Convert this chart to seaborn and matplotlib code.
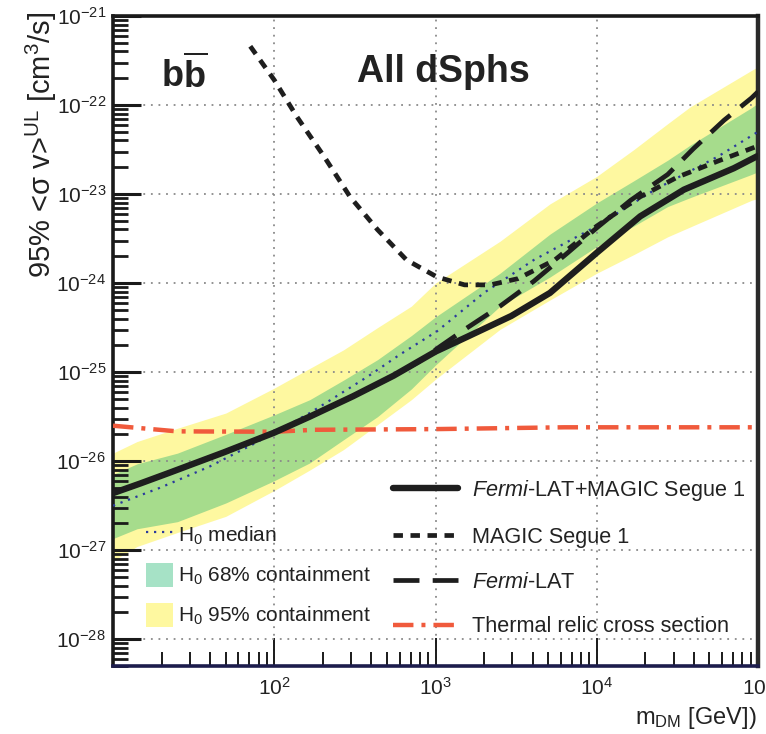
import numpy as np
import pandas as pd
import matplotlib
matplotlib.use("Agg")
import matplotlib.pyplot as plt
from matplotlib.ticker import LogLocator, LogFormatterSciNotation, NullFormatter, FuncFormatter
from matplotlib.lines import Line2D
from matplotlib.patches import Patch
import seaborn as sns

# ---------------- data ----------------
# Fermi-LAT + MAGIC Segue 1 combined limit
comb_mass = [10, 14.8, 22.4, 49, 100, 166, 309, 550, 1000, 1585, 2950, 5130,
             10000, 18600, 34700, 70800, 100000]
comb_sv = [4.37e-27, 5.62e-27, 7.41e-27, 1.26e-26, 2.09e-26, 3.16e-26, 5.37e-26,
           9.12e-26, 1.70e-25, 2.51e-25, 4.27e-25, 7.76e-25, 2.19e-24, 5.62e-24,
           1.12e-23, 1.95e-23, 2.69e-23]

# Fermi-LAT only
fermi_mass = [10, 14.8, 22.4, 49, 100, 166, 309, 550, 794, 1072, 1549, 2512,
              4074, 6607, 10000, 16218, 27542, 39811, 61660, 91201, 100000]
fermi_sv = [4.37e-27, 5.62e-27, 7.41e-27, 1.26e-26, 2.09e-26, 3.16e-26, 5.37e-26,
            9.12e-26, 1.32e-25, 1.95e-25, 3.09e-25, 5.50e-25, 1.05e-24, 2.19e-24,
            4.17e-24, 8.51e-24, 1.66e-23, 3.24e-23, 6.76e-23, 1.20e-22, 1.41e-22]

# MAGIC Segue 1 only
magic_mass = [71, 100, 138, 204, 295, 437, 661, 1023, 1514, 2188, 3236, 5495,
              10000, 18621, 31623, 56234, 100000]
magic_sv = [4.57e-22, 1.91e-22, 7.41e-23, 2.63e-23, 9.33e-24, 3.98e-24, 1.82e-24,
            1.17e-24, 9.55e-25, 9.55e-25, 1.12e-24, 1.82e-24, 4.37e-24, 9.33e-24,
            1.55e-23, 2.34e-23, 3.47e-23]

# H0 median expectation
median_mass = [10, 19.5, 39.8, 74, 166, 380, 603, 1023, 1995, 4074, 10000, 22909,
               56234, 100000]
median_sv = [3.16e-27, 5.01e-27, 8.71e-27, 1.55e-26, 3.47e-26, 8.91e-26, 1.58e-25,
             2.88e-25, 7.76e-25, 1.82e-24, 4.37e-24, 1.12e-23, 2.63e-23, 5.01e-23]

# containment bands
band_mass = [10, 14.1, 25.1, 50.1, 100, 166, 269, 437, 708, 1000, 2512, 5129,
             10000, 16982, 27542, 38019, 91201, 100000]
y95_hi = [1.23e-26, 1.66e-26, 2.34e-26, 3.47e-26, 6.61e-26, 1.10e-25, 1.78e-25,
          3.16e-25, 5.50e-25, 1.0e-24, 2.95e-24, 7.76e-24, 1.58e-23, 3.16e-23,
          6.17e-23, 9.55e-23, 2.45e-22, 2.69e-22]
y95_lo = [7.59e-28, 1.10e-27, 1.58e-27, 2.40e-27, 4.68e-27, 7.94e-27, 1.35e-26,
          2.57e-26, 4.90e-26, 8.32e-26, 3.02e-25, 6.46e-25, 1.29e-24, 2.09e-24,
          3.31e-24, 4.27e-24, 8.51e-24, 8.91e-24]
y68_hi = [7.08e-27, 9.33e-27, 1.23e-26, 2.0e-26, 3.31e-26, 4.90e-26, 8.13e-26,
          1.38e-25, 2.57e-25, 4.17e-25, 1.29e-24, 3.55e-24, 7.94e-24, 1.41e-23,
          2.40e-23, 3.55e-23, 9.33e-23, 1.05e-22]
y68_lo = [1.35e-27, 1.74e-27, 2.09e-27, 3.39e-27, 6.03e-27, 9.55e-27, 1.74e-26,
          3.16e-26, 6.46e-26, 1.20e-25, 5.50e-25, 1.17e-24, 2.57e-24, 4.37e-24,
          7.24e-24, 9.12e-24, 1.66e-23, 1.78e-23]

# thermal relic cross section
relic_mass = [10, 25, 100, 178, 1000, 6310, 31623, 100000]
relic_sv = [2.5e-26, 2.16e-26, 2.14e-26, 2.25e-26, 2.29e-26, 2.4e-26, 2.4e-26, 2.4e-26]

labels_right = [r"$\mathit{Fermi}$-LAT+MAGIC Segue 1", "MAGIC Segue 1",
                r"$\mathit{Fermi}$-LAT", "Thermal relic cross section"]
labels_left = [r"H$_0$ median", r"H$_0$ 68% containment", r"H$_0$ 95% containment"]

# ---------------- style ----------------
sns.set_theme(style="white")
plt.rcParams["font.family"] = ["Liberation Sans", "DejaVu Sans"]
plt.rcParams["mathtext.fontset"] = "custom"
plt.rcParams["mathtext.rm"] = "Liberation Sans"
plt.rcParams["mathtext.it"] = "Liberation Sans:italic"
plt.rcParams["mathtext.bf"] = "Liberation Sans:bold"
plt.rcParams["mathtext.default"] = "regular"
plt.rcParams["text.color"] = "#222222"

W, H = 766, 734
fig = plt.figure(figsize=(W / 100, H / 100), dpi=100)
ax = fig.add_axes([113 / W, 1 - 666 / H, (758 - 113) / W, (666 - 16) / H])

YEL = "#fef8a0"
GRN = "#a6dc8c"
GRN_LEG = "#a6e2c6"

ax.fill_between(band_mass, y95_lo, y95_hi, color=YEL, lw=0, zorder=0.6)
ax.fill_between(band_mass, y68_lo, y68_hi, color=GRN, lw=0, zorder=0.7)

sns.lineplot(x=median_mass, y=median_sv, ax=ax, color="#2b3a9c", lw=1.6,
             linestyle=(0, (1, 2.6)), estimator=None, sort=False, zorder=3)
sns.lineplot(x=relic_mass, y=relic_sv, ax=ax, color="#f05a3c", lw=3.2,
             linestyle=(0, (4.6, 1.8, 0.9, 1.8)), estimator=None, sort=False, zorder=3)
sns.lineplot(x=fermi_mass, y=fermi_sv, ax=ax, color="#1e1e1e", lw=3.4,
             linestyle=(0, (5.5, 2.8)), estimator=None, sort=False, zorder=3.2)
sns.lineplot(x=magic_mass, y=magic_sv, ax=ax, color="#1e1e1e", lw=3.4,
             linestyle=(0, (2.0, 1.6)), estimator=None, sort=False, zorder=3.3)
sns.lineplot(x=comb_mass, y=comb_sv, ax=ax, color="#1e1e1e", lw=4.6,
             estimator=None, sort=False, zorder=3.4)

ax.set_xscale("log")
ax.set_yscale("log")
ax.set_xlim(10, 1e5)
ax.set_ylim(5e-29, 1e-21)
ax.set_xlabel("")
ax.set_ylabel("")

ax.xaxis.set_major_locator(LogLocator(base=10, numticks=20))
ax.yaxis.set_major_locator(LogLocator(base=10, numticks=20))
ax.xaxis.set_minor_locator(LogLocator(base=10, subs=np.arange(2, 10), numticks=100))
ax.yaxis.set_minor_locator(LogLocator(base=10, subs=np.arange(2, 10), numticks=100))


def xfmt(v, pos):
    e = int(round(np.log10(v)))
    return "" if e < 2 else r"$10^{%d}$" % e


ax.xaxis.set_major_formatter(FuncFormatter(xfmt))
ax.yaxis.set_major_formatter(LogFormatterSciNotation())
ax.xaxis.set_minor_formatter(NullFormatter())
ax.yaxis.set_minor_formatter(NullFormatter())

ax.tick_params(which="both", direction="in", top=False, right=False, left=True,
               bottom=True, colors="#1a1a1a", labelsize=15, labelcolor="#222222")
ax.tick_params(axis="y", which="major", length=20, width=2.2, pad=5)
ax.tick_params(axis="y", which="minor", length=11, width=2.0)
ax.tick_params(axis="x", which="major", length=20, width=1.4, pad=8)
ax.tick_params(axis="x", which="minor", length=10, width=1.4)

ax.set_axisbelow("line")
ax.grid(which="major", linestyle=(0, (1, 3.2)), color="#8a8a8a", lw=1.3)
ax.grid(which="minor", visible=False)

for s in ["left", "top"]:
    ax.spines[s].set_color("#1a1a1a")
    ax.spines[s].set_linewidth(2.6)
ax.spines["right"].set_color("#2a2a2a")
ax.spines["right"].set_linewidth(3.2)
ax.spines["bottom"].set_color("#1c1c4c")
ax.spines["bottom"].set_linewidth(2.6)

# titles inside plot
ax.text(184 / W, 1 - 75 / H, r"$\mathbf{b}\overline{\mathbf{b}}$", transform=fig.transFigure,
        ha="center", va="center", fontsize=26, color="#222222")
ax.text(443 / W, 1 - 72 / H, "All dSphs", transform=fig.transFigure,
        ha="center", va="center", fontsize=27, fontweight="bold", color="#222222")

# axis titles
fig.text(41 / W, 1 - 12 / H, r"95% <σ v>$^{UL}$ [cm$^{3}$/s]", rotation=90,
         ha="center", va="top", fontsize=21)
fig.text(757 / W, 1 - 718 / H, r"m$_{DM}$ [GeV])", ha="right", va="center", fontsize=17)

# legends
h_right = [Line2D([], [], color="#1e1e1e", lw=4.6),
           Line2D([], [], color="#1e1e1e", lw=3.4, linestyle=(0, (2.0, 1.6))),
           Line2D([], [], color="#1e1e1e", lw=3.4, linestyle=(0, (5.5, 2.8))),
           Line2D([], [], color="#f05a3c", lw=3.2, linestyle=(0, (4.6, 1.8, 0.9, 1.8)))]
leg_r = ax.legend(h_right, labels_right, loc="upper left",
                  bbox_to_anchor=(393 / W, 1 - 478 / H), bbox_transform=fig.transFigure,
                  frameon=False, fontsize=15.6, handlelength=3.0, handletextpad=0.65,
                  labelspacing=1.1, borderpad=0, borderaxespad=0)
ax.add_artist(leg_r)

h_left = [Line2D([], [], color="#2b3a9c", lw=1.6, linestyle=(0, (1, 2.6))),
          Patch(facecolor=GRN_LEG, edgecolor="none"),
          Patch(facecolor=YEL, edgecolor="none")]
leg_l = ax.legend(h_left, labels_left, loc="upper left",
                  bbox_to_anchor=(146 / W, 1 - 523 / H), bbox_transform=fig.transFigure,
                  frameon=False, fontsize=15, handlelength=1.3, handleheight=1.4,
                  handletextpad=0.25, labelspacing=0.75, borderpad=0, borderaxespad=0)

fig.savefig("out.png", dpi=100)
